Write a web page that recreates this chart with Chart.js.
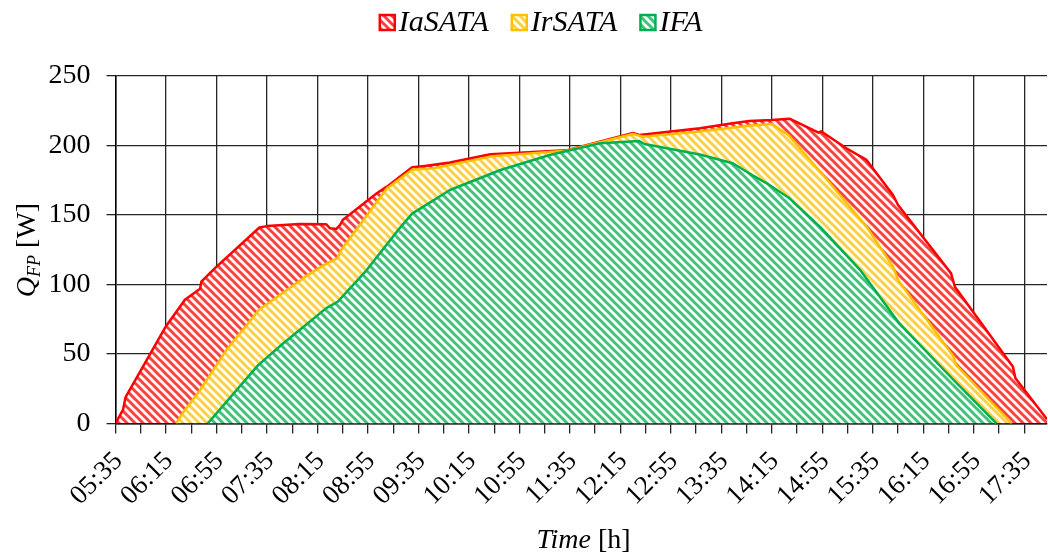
<!DOCTYPE html>
<html>
<head>
<meta charset="utf-8">
<script src="https://cdn.jsdelivr.net/npm/chart.js@4.4.1/dist/chart.umd.min.js"></script>
<style>
  html, body { margin: 0; padding: 0; background: #fff; }
  #wrap { width: 1048px; height: 553px; }
</style>
</head>
<body>
<div id="wrap"><canvas id="chart" width="1048" height="553"></canvas></div>
<script>
// Collector heat output over the day for the three tracking modes
const seriesNames = ['IaSATA', 'IrSATA', 'IFA'];
const seriesColors = ['#FF0000', '#FFC000', '#00B050'];

const tickLabels = ['05:35', '06:15', '06:55', '07:35', '08:15', '08:55', '09:35', '10:15', '10:55',
  '11:35', '12:15', '12:55', '13:35', '14:15', '14:55', '15:35', '16:15', '16:55', '17:35'];
const axisEnd = '17:53';

const iaSataTimes = ['05:35', '05:41', '05:43', '06:15', '06:30', '06:42', '06:43', '06:54', '07:29', '07:35',
  '08:01', '08:22', '08:25', '08:30', '08:33', '08:35', '09:02', '09:10', '09:30', '09:40', '10:00', '10:32',
  '11:32', '12:25', '12:30', '13:18', '13:44', '13:57', '14:15', '14:29', '14:52', '14:54', '15:14', '15:30',
  '15:51', '15:55', '16:37', '16:40', '17:26', '17:28', '17:53'];
const iaSataValues = [0, 10, 19, 70, 89, 97, 102, 112, 141, 142,
  143.5, 143.3, 140.4, 140, 143, 146.4, 165.6, 170.4, 184.3, 185.3, 187.7, 193.7,
  196.5, 209, 207.6, 212.4, 216, 217.6, 218.3, 219.3, 209.2, 210.2, 198, 189.6,
  164.4, 157.2, 108, 98.4, 40.9, 32.5, 3];

const irSataTimes = ['06:23', '06:29', '06:42', '07:03', '07:29', '07:43', '08:06', '08:22', '08:31', '08:34',
  '09:10', '09:30', '09:47', '10:00', '10:32', '11:32', '12:25', '12:33', '13:18', '13:57', '14:15', '14:28',
  '14:53', '15:30', '15:51', '15:55', '16:39', '16:41', '17:25'];
const irSataValues = [0, 8.5, 24, 53, 82, 91, 106, 115, 119, 125,
  169, 182.5, 183.6, 186, 192, 196.3, 208.3, 206.3, 210, 214.2, 215.5, 207.6,
  181.5, 141.6, 112.8, 103.2, 48, 42, 0];

const ifaTimes = ['06:48', '07:28', '07:48', '08:22', '08:31', '08:54', '09:20', '09:30', '10:00', '10:40',
  '11:19', '11:59', '12:30', '12:34', '13:18', '13:44', '13:57', '14:11', '14:29', '14:53', '15:25', '15:56',
  '16:39', '17:13'];
const ifaValues = [0, 42, 57.7, 83, 87.6, 110.4, 140.4, 151, 168, 182.4,
  193.2, 201.6, 203.2, 201.1, 193.5, 187.2, 180, 172.8, 162, 141.6, 110.4, 72,
  31.3, 0];

// ---- helpers ----
const toMin = t => { const [h, m] = t.split(':').map(Number); return h * 60 + m; };
const START = toMin(tickLabels[0]);
const points = (times, values) => times.map((t, i) => ({ x: toMin(t) - START, y: values[i] }));

const canvas = document.getElementById('chart');
const ctx = canvas.getContext('2d');

// diagonal hatch fill, stripes running down to the right
function hatch(color) {
  const s = 8;
  const tile = document.createElement('canvas');
  tile.width = s; tile.height = s;
  const g = tile.getContext('2d');
  g.fillStyle = '#fff';
  g.fillRect(0, 0, s, s);
  g.globalAlpha = 0.75;
  g.strokeStyle = color;
  g.lineWidth = 3;
  g.beginPath();
  for (let k = -1; k <= 1; k++) {
    g.moveTo(k * s - 1, -1);
    g.lineTo(k * s + s + 1, s + 1);
  }
  g.stroke();
  return ctx.createPattern(tile, 'repeat');
}

const FONT = 'Liberation Serif';
const PLOT_LEFT = 115.5, PLOT_TOP = 76, PLOT_BOTTOM = 423.5;

// legend row: hatched swatch followed by the italic series name
const legendRow = {
  id: 'legendRow',
  afterDraw(chart) {
    const c = chart.ctx;
    const box = 15, gap = 4, spacing = 23, baseline = 31, boxTop = 15;
    c.save();
    c.font = `italic 30px "${FONT}"`;
    c.textBaseline = 'alphabetic';
    const items = chart.data.datasets.map(ds => ({ ds, w: c.measureText(ds.label).width }));
    const total = items.reduce((s, it) => s + box + gap + it.w, 0) + spacing * (items.length - 1);
    let x = 541 - total / 2;
    items.forEach(({ ds, w }) => {
      c.fillStyle = ds.backgroundColor;
      c.fillRect(x, boxTop, box, box);
      c.lineWidth = 2.5;
      c.strokeStyle = ds.borderColor;
      c.strokeRect(x, boxTop, box, box);
      c.fillStyle = '#000';
      c.fillText(ds.label, x + box + gap, baseline);
      x += box + gap + w + spacing;
    });
    c.restore();
  }
};

// axis titles with italic symbols and a subscript
const axisTitles = {
  id: 'axisTitles',
  afterDraw(chart) {
    const c = chart.ctx;
    c.save();
    c.fillStyle = '#000';
    c.textBaseline = 'alphabetic';

    // y title: Q_FP [W]
    const big = 28, small = 18;
    const parts = [
      { t: 'Q', f: `italic ${big}px "${FONT}"`, dy: 0 },
      { t: 'FP', f: `italic ${small}px "${FONT}"`, dy: 5 },
      { t: ' [W]', f: `${big}px "${FONT}"`, dy: 0 }
    ];
    let total = 0;
    parts.forEach(p => { c.font = p.f; p.w = c.measureText(p.t).width; total += p.w; });
    c.translate(35, 250);
    c.rotate(-Math.PI / 2);
    let x = -total / 2;
    parts.forEach(p => { c.font = p.f; c.fillText(p.t, x, p.dy); x += p.w; });
    c.setTransform(1, 0, 0, 1, 0, 0);

    // x title: Time [h]
    const xp = [
      { t: 'Time', f: `italic ${big}px "${FONT}"` },
      { t: ' [h]', f: `${big}px "${FONT}"` }
    ];
    let tw = 0;
    xp.forEach(p => { c.font = p.f; p.w = c.measureText(p.t).width; tw += p.w; });
    let xx = 583.5 - tw / 2;
    xp.forEach(p => { c.font = p.f; c.fillText(p.t, xx, 548); xx += p.w; });
    c.restore();
  }
};

const seriesData = [
  points(iaSataTimes, iaSataValues),
  points(irSataTimes, irSataValues),
  points(ifaTimes, ifaValues)
];

new Chart(ctx, {
  type: 'line',
  data: {
    datasets: seriesNames.map((name, i) => ({
      label: name,
      data: seriesData[i],
      borderColor: seriesColors[i],
      backgroundColor: hatch(seriesColors[i]),
      borderWidth: 2.5,
      borderJoinStyle: 'round',
      pointRadius: 0,
      pointHoverRadius: 0,
      tension: 0,
      fill: 'origin',
      order: seriesNames.length - i
    }))
  },
  options: {
    responsive: false,
    animation: false,
    devicePixelRatio: 1,
    layout: { padding: { left: 0, right: 1, top: PLOT_TOP, bottom: 0 } },
    plugins: {
      tooltip: { enabled: false },
      legend: { display: false }
    },
    scales: {
      x: {
        type: 'linear',
        min: 0,
        max: toMin(axisEnd) - START,
        afterBuildTicks: scale => {
          scale.ticks = [];
          for (let v = 0; v <= (tickLabels.length - 1) * 40; v += 20) scale.ticks.push({ value: v });
        },
        afterFit: scale => {
          scale.height = 553 - PLOT_BOTTOM;
          scale.paddingRight = 0;
        },
        grid: {
          color: c => (c.tick && c.tick.value % 40 === 0) ? '#262626' : 'rgba(0,0,0,0)',
          tickColor: '#262626',
          lineWidth: 1.3,
          tickLength: 10
        },
        border: { color: '#000', width: 1.5 },
        ticks: {
          autoSkip: false,
          minRotation: 45,
          maxRotation: 45,
          padding: 12,
          labelOffset: 3,
          color: '#000',
          font: { family: FONT, size: 27 },
          callback: v => (v % 40 === 0 ? tickLabels[v / 40] : '')
        }
      },
      y: {
        min: 0,
        max: 250,
        afterFit: scale => { scale.width = PLOT_LEFT; },
        grid: { color: '#262626', lineWidth: 1.3, tickLength: 9 },
        border: { color: '#000', width: 1.5 },
        ticks: {
          stepSize: 50,
          padding: 16,
          color: '#000',
          font: { family: FONT, size: 28 }
        }
      }
    }
  },
  plugins: [legendRow, axisTitles]
});
</script>
</body>
</html>
